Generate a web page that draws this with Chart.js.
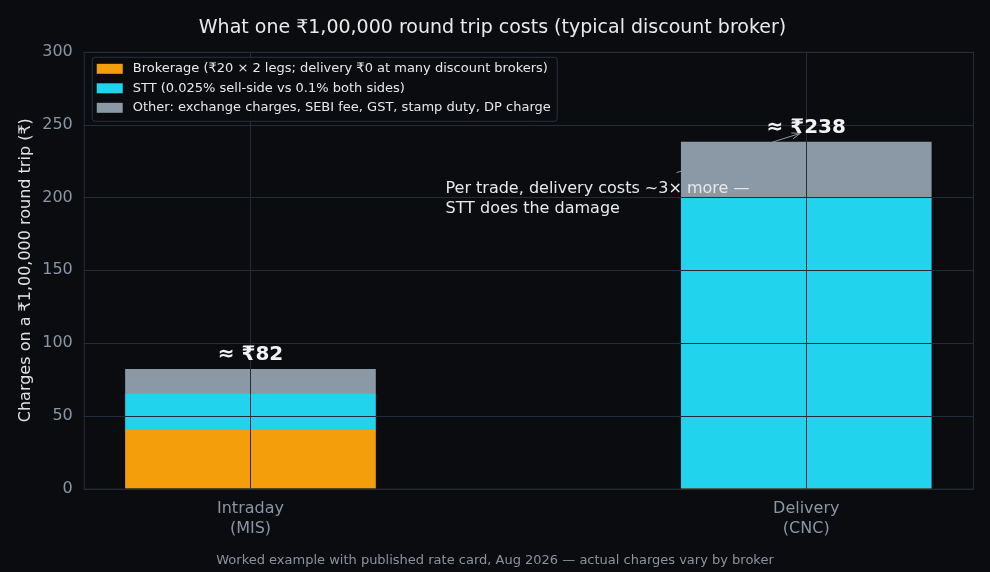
<!DOCTYPE html>
<html><head><meta charset="utf-8">
<script src="https://cdn.jsdelivr.net/npm/chart.js@4"></script>
<style>html,body{margin:0;background:#0b0c10;}#w{width:990px;height:572px;position:relative}</style>
</head><body><div id="w"><canvas id="c"></canvas></div>
<script>
const categories = [["Intraday","(MIS)"],["Delivery","(CNC)"]];
const brokerage = [40, 0];
const stt = [25, 200];
const other = [17, 38];
const totals = ["≈ ₹82", "≈ ₹238"];
const yTicks = [0,50,100,150,200,250,300];
const F = "DejaVu Sans";
const gridC = "#232c38";
const pts = arr => arr.map((v,i)=>({x:i,y:v}));

const overlay = {
  id:'overlay',
  beforeDatasetsDraw(ch){
    const {ctx, scales:{x,y}} = ch;
    const x0 = x.getPixelForValue(0) + 426, y0 = y.getPixelForValue(217);
    const x1 = x.getPixelForValue(1) - 6, y1 = y.getPixelForValue(244);
    ctx.save(); ctx.strokeStyle="#8a96a6"; ctx.lineWidth=1;
    ctx.beginPath(); ctx.moveTo(x0,y0); ctx.lineTo(x1,y1); ctx.stroke();
    const a = Math.atan2(y1-y0,x1-x0);
    ctx.beginPath();
    ctx.moveTo(x1-9*Math.cos(a-0.35), y1-9*Math.sin(a-0.35));
    ctx.lineTo(x1,y1);
    ctx.lineTo(x1-9*Math.cos(a+0.35), y1-9*Math.sin(a+0.35));
    ctx.stroke(); ctx.restore();
  },
  afterDatasetsDraw(ch){
    const {ctx, chartArea:a, scales:{x,y}} = ch;
    ctx.save(); ctx.strokeStyle=gridC; ctx.lineWidth=1;
    yTicks.forEach(v=>{const p=Math.round(y.getPixelForValue(v))+0.5;ctx.beginPath();ctx.moveTo(a.left,p);ctx.lineTo(a.right,p);ctx.stroke();});
    [0,1].forEach(i=>{const p=Math.round(x.getPixelForValue(i))+0.5;ctx.beginPath();ctx.moveTo(p,a.top);ctx.lineTo(p,a.bottom);ctx.stroke();});
    ctx.strokeRect(a.left+0.5,a.top+0.5,a.right-a.left,a.bottom-a.top);
    ctx.fillStyle="#f2f2f2"; ctx.font="bold 20px "+F; ctx.textAlign="center"; ctx.textBaseline="bottom";
    [0,1].forEach(i=>{const t=brokerage[i]+stt[i]+other[i]; ctx.fillText(totals[i], x.getPixelForValue(i), y.getPixelForValue(t)-4);});
    ctx.font="16px "+F; ctx.textAlign="left"; ctx.textBaseline="alphabetic"; ctx.fillStyle="#e8e8e8";
    const tx = x.getPixelForValue(0)+195;
    ctx.fillText("Per trade, delivery costs ~3× more —", tx, y.getPixelForValue(203));
    ctx.fillText("STT does the damage", tx, y.getPixelForValue(189.5));
    ctx.font="13px "+F; ctx.textAlign="center"; ctx.fillStyle="#8a93a0";
    ctx.fillText("Worked example with published rate card, Aug 2026 — actual charges vary by broker", 495, 564);
    ctx.restore();
  }
};

new Chart(document.getElementById('c'), {
  type:'bar',
  data:{datasets:[
    {label:"Brokerage (₹20 × 2 legs; delivery ₹0 at many discount brokers)", data:pts(brokerage), backgroundColor:"#f59e0b"},
    {label:"STT (0.025% sell-side vs 0.1% both sides)", data:pts(stt), backgroundColor:"#22d3ee"},
    {label:"Other: exchange charges, SEBI fee, GST, stamp duty, DP charge", data:pts(other), backgroundColor:"#8b98a6"}
  ]},
  options:{
    responsive:true, maintainAspectRatio:false, animation:false,
    layout:{padding:{left:12,right:17,top:7,bottom:31}},
    datasets:{bar:{barThickness:250}},
    plugins:{
      title:{display:true,text:"What one ₹1,00,000 round trip costs (typical discount broker)",color:"#eaeaea",font:{family:F,size:19,weight:'normal'},padding:{top:10,bottom:12}},
      legend:{display:false},
      tooltip:{enabled:false}
    },
    scales:{
      x:{type:'linear',stacked:true,min:-0.3,max:1.3,offset:false,grid:{display:false},border:{display:false},
         afterBuildTicks:s=>{s.ticks=[{value:0},{value:1}];},
         ticks:{color:"#8a96a6",font:{family:F,size:16},callback:v=>categories[v]}},
      y:{stacked:true,min:0,max:300,grid:{display:false},border:{display:false},
         afterBuildTicks:s=>{s.ticks=yTicks.map(v=>({value:v}));},
         ticks:{color:"#8a96a6",font:{family:F,size:16}},
         title:{display:true,text:"Charges on a ₹1,00,000 round trip (₹)",color:"#e0e0e0",font:{family:F,size:16}}}
    }
  },
  plugins:[overlay, {
    id:'legendBox',
    afterDraw(ch){
      const {ctx, chartArea:a} = ch;
      const ds = ch.data.datasets;
      ctx.save();
      const bx=a.left+8, by=a.top+5, bw=465, bh=64;
      ctx.fillStyle="rgba(11,12,16,0.9)"; ctx.strokeStyle="#2a3340"; ctx.lineWidth=1;
      ctx.beginPath(); ctx.roundRect(bx+0.5,by+0.5,bw,bh,3); ctx.fill(); ctx.stroke();
      ctx.font="13px "+F; ctx.textBaseline="middle";
      ds.forEach((d,i)=>{const yy=by+12+i*19.5; ctx.fillStyle=d.backgroundColor; ctx.fillRect(bx+5,yy-5,26,10);
        ctx.fillStyle="#e8e8e8"; ctx.fillText(d.label,bx+41,yy);});
      ctx.restore();
    }
  }]
});
</script></body></html>
